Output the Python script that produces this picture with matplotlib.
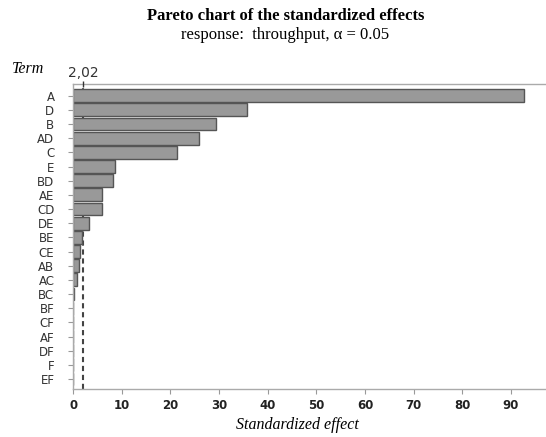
import matplotlib
matplotlib.use("Agg")
import matplotlib.pyplot as plt
import numpy as np

# ------ data ------ #
terms = ["A", "D", "B", "AD", "C", "E", "BD", "AE", "CD", "DE",
         "BE", "CE", "AB", "AC", "BC", "BF", "CF", "AF", "DF", "F", "EF"]
effects = [92.6, 35.7, 29.3, 25.9, 21.4, 8.6, 8.1, 6.0, 6.0, 3.3,
           1.9, 1.4, 1.3, 0.8, 0.15, 0.0, 0.0, 0.0, 0.0, 0.0, 0.0]
crit = 2.02
xticks = [0, 10, 20, 30, 40, 50, 60, 70, 80, 90]
# ------------------------------------ #

fig = plt.figure(figsize=(5.46, 4.37), dpi=100)
ax = fig.add_axes([0.134, 0.110, 0.864, 0.698])

ypos = np.arange(len(terms))
# dashed reference line goes behind the bars, as in the original
ax.axvline(crit, color="#444444", linestyle=(0, (2.5, 1.8)), linewidth=1.5, zorder=1)
ax.barh(ypos, effects, height=0.9, color="#999999", edgecolor="#555555", linewidth=1.0, zorder=2)
# small mark where the line meets the top spine
ax.plot([crit], [1.0], marker="|", markersize=4, color="#333333",
        transform=ax.get_xaxis_transform(), clip_on=False, zorder=3)

ax.set_ylim(len(terms) - 1 + 0.7, -0.83)
ax.set_xlim(0, 97)
ax.set_yticks(ypos)
ax.set_yticklabels(terms, fontsize=8.5, color="#333333")
ax.set_xticks(xticks)
ax.set_xticklabels([str(t) for t in xticks], fontsize=8.5, color="#222222", fontweight="bold")
ax.tick_params(axis="y", length=3.5, color="#999999", pad=10)
ax.tick_params(axis="x", length=3.5, color="#999999", pad=4)

for s in ["left", "bottom", "top"]:
    ax.spines[s].set_color("#aaaaaa")
    ax.spines[s].set_linewidth(1.0)
ax.spines["right"].set_visible(False)

# the critical value sits above the top spine
ax.text(crit, 1.012, "2,02", transform=ax.get_xaxis_transform(), ha="center", va="bottom",
        fontsize=10, color="#333333")

fig.text(0.524, 0.963, "Pareto chart of the standardized effects", ha="center", va="center",
         fontsize=12, fontweight="bold", family="Liberation Serif")
fig.text(0.523, 0.919, "response:  throughput, α = 0.05", ha="center", va="center",
         fontsize=12, family="Liberation Serif")
fig.text(0.022, 0.842, "Term", ha="left", va="center", fontsize=11.5, style="italic",
         family="Liberation Serif")
fig.text(0.544, 0.027, "Standardized effect", ha="center", va="center", fontsize=11.5,
         style="italic", family="Liberation Serif")

fig.savefig("out.png", dpi=100)
